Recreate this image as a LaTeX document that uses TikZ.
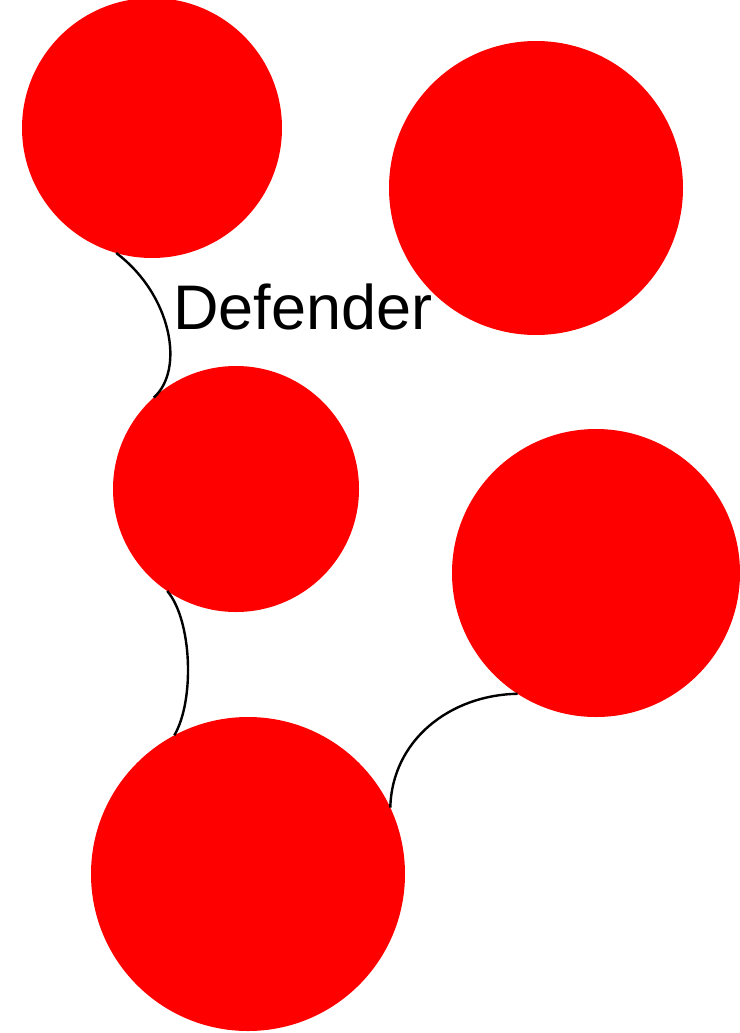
\documentclass[tikz,border=0pt]{standalone}
\usepackage{fontspec}
\setmainfont{Liberation Sans}
\begin{document}
\begin{tikzpicture}[x=1pt,y=-1pt,
  ball/.style={circle, fill=red, draw=none, inner sep=0pt, outer sep=0pt, minimum size=#1},
  link/.style={draw=black, line width=2.4pt}]
\useasboundingbox (0,0) rectangle (739,1033);
\node[ball=260pt] (c1) at (152,128) {};
\node[ball=294pt] (c2) at (536,188) {};
\node[ball=246pt] (c3) at (236,489) {};
\node[ball=288pt] (c4) at (596,573) {};
\node[ball=314pt] (c5) at (248,874) {};
\node[anchor=base west, inner sep=0pt, font=\fontsize{63}{70}\selectfont] (lbl) at (173,329) {Defender};
\draw[link] (c1.254) .. controls (172,295) and (185,370) .. (c3.132);
\draw[link] (c3.236) .. controls (192,620) and (195,700) .. (c5.118);
\draw[link] (c5.25) .. controls (392,740) and (450,695) .. (c4.237);
\end{tikzpicture}
\end{document}
